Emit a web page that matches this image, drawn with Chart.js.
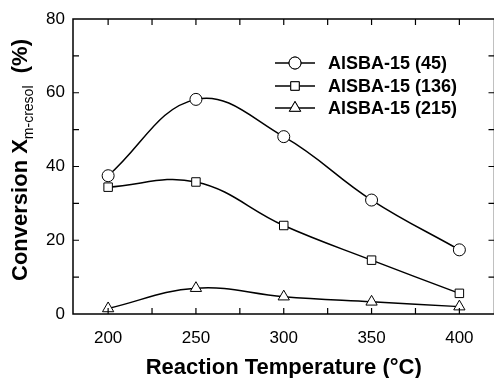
<!DOCTYPE html>
<html>
<head>
<meta charset="utf-8">
<script src="https://cdn.jsdelivr.net/npm/chart.js@4"></script>
<style>
  html, body { margin: 0; padding: 0; background: #fff; overflow: hidden; }
  #wrap { width: 494px; height: 378px; overflow: hidden; }
</style>
</head>
<body>
<div id="wrap"><canvas id="convChart" width="502" height="378"></canvas></div>
<script>
// values
var temps = [200, 250, 300, 350, 400];
var conv45 = [37.5, 58.2, 48.1, 30.9, 17.4];
var conv136 = [34.4, 35.8, 24.0, 14.6, 5.6];
var conv215 = [1.5, 7.0, 4.7, 3.3, 2.0];
var seriesLabels = ['AlSBA-15 (45)', 'AlSBA-15 (136)', 'AlSBA-15 (215)'];
var seriesMarkers = ['circle', 'rect', 'triangle'];
var xTicks = [200, 250, 300, 350, 400];
var yTicks = [0, 20, 40, 60, 80];

function pts(vals) {
    return temps.map(function (t, i) { return { x: t, y: vals[i] }; });
}

function makeSet(i, vals) {
    return {
        label: seriesLabels[i],
        data: pts(vals),
        borderColor: '#000',
        borderWidth: 1.5,
        backgroundColor: '#fff',
        pointStyle: seriesMarkers[i],
        pointRadius: seriesMarkers[i] === 'triangle' ? 6.5 : 6,
        pointBorderWidth: 1,
        pointBorderColor: '#000',
        pointBackgroundColor: '#fff',
        tension: 0.4,
        fill: false
    };
}

// frame, inward ticks, axis title with subscript and the legend
var framePlugin = {
    id: 'frame',
    afterDatasetsDraw: function (chart) {
        var ctx = chart.ctx, a = chart.chartArea;
        var xs = chart.scales.x, ys = chart.scales.y;
        ctx.save();
        ctx.strokeStyle = '#000';
        ctx.lineWidth = 1.5;
        ctx.strokeRect(a.left, a.top, a.right - a.left, a.bottom - a.top);
        ctx.lineWidth = 1.2;
        ctx.beginPath();
        for (var v = 200; v <= 400; v += 25) {
            var px = xs.getPixelForValue(v);
            ctx.moveTo(px, a.bottom); ctx.lineTo(px, a.bottom - 6);
            ctx.moveTo(px, a.top); ctx.lineTo(px, a.top + 6);
        }
        for (var w = 10; w < 80; w += 10) {
            var py = ys.getPixelForValue(w);
            ctx.moveTo(a.left, py); ctx.lineTo(a.left + 6, py);
            ctx.moveTo(a.right, py); ctx.lineTo(a.right - 6, py);
        }
        ctx.stroke();
        ctx.restore();
    },
    afterDraw: function (chart) {
        var ctx = chart.ctx;
        // y title
        ctx.save();
        ctx.fillStyle = '#000';
        ctx.translate(21, 160);
        ctx.rotate(-Math.PI / 2);
        var mainFont = 'bold 22px "Liberation Sans", Arial, sans-serif';
        var subFont = '14px "Liberation Sans", Arial, sans-serif';
        ctx.font = mainFont;
        var p1 = 'Conversion X', p3 = '  (%)';
        var w1 = ctx.measureText(p1).width, w3 = ctx.measureText(p3).width;
        ctx.font = subFont;
        var p2 = 'm-cresol';
        var w2 = ctx.measureText(p2).width;
        var x0 = -(w1 + w2 + w3) / 2;
        ctx.textBaseline = 'middle';
        ctx.textAlign = 'left';
        ctx.font = mainFont;
        ctx.fillText(p1, x0, 0);
        ctx.font = subFont;
        ctx.fillText(p2, x0 + w1, 8);
        ctx.font = mainFont;
        ctx.fillText(p3, x0 + w1 + w2, 0);
        ctx.restore();

        // legend
        ctx.save();
        var rows = [63, 86, 108];
        chart.data.datasets.forEach(function (ds, i) {
            var y = rows[i];
            ctx.strokeStyle = '#000';
            ctx.lineWidth = 1.5;
            ctx.beginPath();
            ctx.moveTo(275, y); ctx.lineTo(315, y);
            ctx.stroke();
            ctx.lineWidth = 1;
            ctx.fillStyle = '#fff';
            Chart.helpers.drawPoint(ctx, {
                pointStyle: ds.pointStyle,
                radius: ds.pointRadius,
                borderWidth: 1
            }, 295, y);
            ctx.fill();
            ctx.stroke();
            ctx.fillStyle = '#000';
            ctx.font = 'bold 18px "Liberation Sans", Arial, sans-serif';
            ctx.textBaseline = 'middle';
            ctx.fillText(ds.label, 328, y + 1);
        });
        ctx.restore();
    }
};

var ctx1 = document.getElementById('convChart').getContext('2d');
var convChart = new Chart(ctx1, {
    type: 'line',
    data: {
        datasets: [
            makeSet(0, conv45),
            makeSet(1, conv136),
            makeSet(2, conv215)
        ]
    },
    plugins: [framePlugin],
    options: {
        responsive: false,
        animation: false,
        layout: { padding: { top: 19, right: 0, left: 0, bottom: 0 } },
        plugins: {
            legend: { display: false },
            tooltip: { enabled: false }
        },
        scales: {
            x: {
                type: 'linear',
                min: 180,
                max: 420,
                afterBuildTicks: function (s) {
                    s.ticks = xTicks.map(function (v) { return { value: v }; });
                },
                afterFit: function (s) { s.height = 64; },
                grid: { display: false, drawTicks: false },
                border: { display: false },
                ticks: {
                    color: '#000',
                    padding: 14,
                    font: { family: '"Liberation Sans", Arial, sans-serif', size: 17 }
                },
                title: {
                    display: true,
                    text: 'Reaction Temperature (°C)',
                    color: '#000',
                    padding: { top: 9, bottom: -3 },
                    font: { family: '"Liberation Sans", Arial, sans-serif', size: 22, weight: 'bold' }
                }
            },
            y: {
                min: 0,
                max: 80,
                afterBuildTicks: function (s) {
                    s.ticks = yTicks.map(function (v) { return { value: v }; });
                },
                afterFit: function (s) { s.width = 73; },
                grid: { display: false, drawTicks: false },
                border: { display: false },
                ticks: {
                    color: '#000',
                    padding: 8,
                    font: { family: '"Liberation Sans", Arial, sans-serif', size: 17 }
                }
            }
        }
    }
});
</script>
</body>
</html>
